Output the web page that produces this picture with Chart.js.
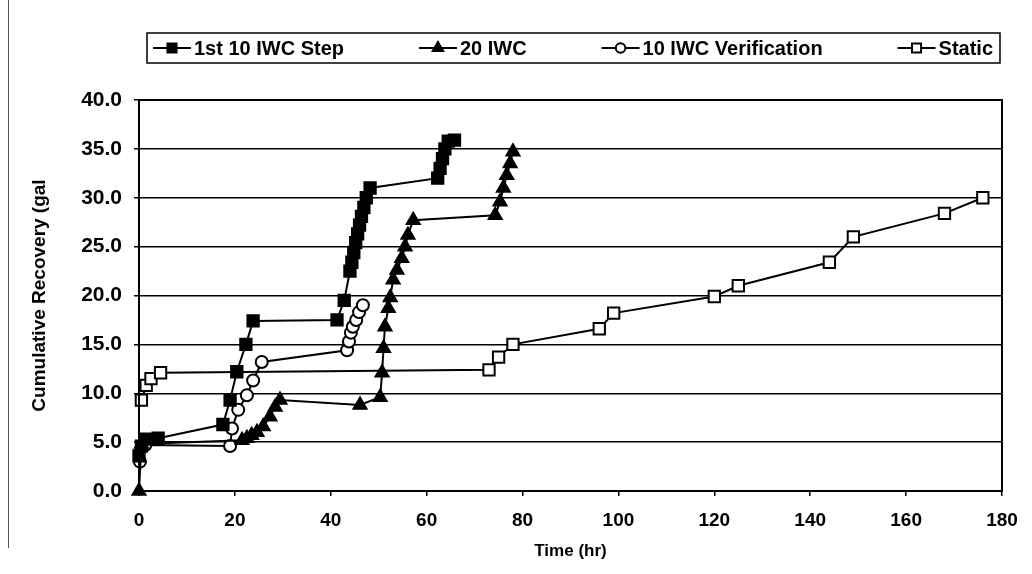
<!DOCTYPE html>
<html>
<head>
<meta charset="utf-8">
<script src="https://cdn.jsdelivr.net/npm/chart.js@4.4.1/dist/chart.umd.min.js"></script>
<style>
  body { margin: 0; background: #fff; }
  canvas { display: block; }
</style>
</head>
<body>
<canvas id="recoveryChart" width="1032" height="574"></canvas>
<script>
// waarden (tijd in uur, cumulatief in gal)
const stepTime = [0, 0.5, 1.5, 4, 17.5, 19, 20.4, 22.3, 23.8, 41.3, 42.8, 44.0, 44.4, 44.8, 45.2, 45.6, 46.0, 46.4, 46.9, 47.4, 48.2, 62.3, 62.8, 63.3, 63.8, 64.5, 65.8];
const stepRecovery = [3.6, 4.6, 5.3, 5.4, 6.8, 9.3, 12.2, 15.0, 17.4, 17.5, 19.5, 22.5, 23.4, 24.4, 25.4, 26.3, 27.2, 28.1, 29.0, 30.0, 31.0, 32.0, 33.0, 34.0, 35.0, 35.8, 35.9];

const iwc20Time = [0, 0.5, 21.5, 22.5, 23.5, 24.6, 25.9, 27.3, 28.4, 29.4, 46.1, 50.3, 50.7, 51.0, 51.3, 52.0, 52.4, 53.0, 53.8, 54.8, 55.5, 56.1, 57.2, 74.3, 75.3, 76.0, 76.7, 77.4, 78.0];
const iwc20Recovery = [0, 4.8, 5.2, 5.4, 5.7, 6.0, 6.6, 7.6, 8.6, 9.3, 8.8, 9.6, 12.1, 14.6, 16.8, 18.7, 19.8, 21.6, 22.6, 23.8, 25.0, 26.2, 27.7, 28.2, 29.6, 31.0, 32.3, 33.5, 34.7];

const verifTime = [0.2, 1.3, 19.0, 19.4, 20.7, 22.5, 23.8, 25.6, 43.4, 43.8, 44.2, 44.6, 45.3, 45.9, 46.7];
const verifRecovery = [3.0, 4.7, 4.6, 6.4, 8.3, 9.8, 11.3, 13.2, 14.4, 15.3, 16.2, 16.8, 17.5, 18.3, 19.0];

const staticTime = [0.5, 1.5, 2.5, 4.5, 73, 75, 78, 96, 99, 120, 125, 144, 149, 168, 176];
const staticRecovery = [9.3, 10.8, 11.5, 12.1, 12.4, 13.7, 15.0, 16.6, 18.2, 19.9, 21.0, 23.4, 26.0, 28.4, 30.0];

const seriesNames = ['1st 10 IWC Step', '20 IWC', '10 IWC Verification', 'Static'];

const toPoints = (xs, ys) => xs.map((x, i) => ({ x: x, y: ys[i] }));

function serie(label, xs, ys, style, fill, radius) {
  return {
    label: label,
    data: toPoints(xs, ys),
    showLine: true,
    borderColor: '#000',
    borderWidth: 2,
    pointStyle: style,
    pointRadius: radius,
    pointBackgroundColor: fill,
    pointBorderColor: '#000',
    pointBorderWidth: 2,
    clip: false
  };
}

// eigen legenda in een kader boven de grafiek
const boxLegend = {
  id: 'boxLegend',
  afterDraw(chart) {
    const ctx = chart.ctx;
    const left = 147, top = 33, right = 1000, bottom = 63;
    ctx.save();
    ctx.strokeStyle = '#000';
    ctx.lineWidth = 1.5;
    ctx.strokeRect(left, top, right - left, bottom - top);
    ctx.font = 'bold 20px "Liberation Sans", Arial, sans-serif';
    ctx.textBaseline = 'middle';
    ctx.fillStyle = '#000';
    const y = (top + bottom) / 2;
    const widths = chart.data.datasets.map(ds => 42 + ctx.measureText(ds.label).width);
    const total = widths.reduce((a, b) => a + b, 0);
    const gap = (right - left - 12 - total) / (widths.length - 1);
    let x = left + 6;
    chart.data.datasets.forEach((ds, i) => {
      ctx.lineWidth = 2;
      ctx.beginPath();
      ctx.moveTo(x, y);
      ctx.lineTo(x + 38, y);
      ctx.stroke();
      ctx.fillStyle = ds.pointBackgroundColor;
      ctx.strokeStyle = '#000';
      Chart.helpers.drawPoint(ctx, { pointStyle: ds.pointStyle, radius: ds.pointRadius * 0.8, rotation: 0, borderWidth: 2 }, x + 19, y);
      ctx.fillStyle = '#000';
      ctx.fillText(ds.label, x + 41, y + 1);
      x += widths[i] + gap;
    });
    // kader rond plotgebied
    const a = chart.chartArea;
    ctx.lineWidth = 2;
    ctx.strokeRect(a.left, a.top, a.right - a.left, a.bottom - a.top);
    // resten van de buitenrand
    ctx.strokeStyle = '#555';
    ctx.lineWidth = 1;
    ctx.beginPath();
    ctx.moveTo(8.5, 0);
    ctx.lineTo(8.5, 548);
    ctx.stroke();
    ctx.restore();
  }
};

const ctx = document.getElementById('recoveryChart').getContext('2d');
new Chart(ctx, {
  type: 'scatter',
  data: {
    datasets: [
      serie(seriesNames[0], stepTime, stepRecovery, 'rect', '#000', 8),
      serie(seriesNames[1], iwc20Time, iwc20Recovery, 'triangle', '#000', 7.5),
      serie(seriesNames[2], verifTime, verifRecovery, 'circle', '#fff', 6),
      serie(seriesNames[3], staticTime, staticRecovery, 'rect', '#fff', 8)
    ]
  },
  options: {
    responsive: false,
    animation: false,
    layout: { padding: { top: 100, right: 30, left: 0, bottom: 0 } },
    plugins: {
      legend: { display: false },
      tooltip: { enabled: false }
    },
    scales: {
      x: {
        type: 'linear',
        min: 0,
        max: 180,
        afterFit: s => { s.height = 83; },
        ticks: {
          stepSize: 20,
          color: '#000',
          padding: 13,
          font: { family: '"Liberation Sans", Arial', size: 19, weight: 'bold' }
        },
        grid: { drawOnChartArea: false, drawTicks: true, tickLength: 5, color: '#000', lineWidth: 1.5 },
        border: { color: '#000', width: 2 },
        title: {
          display: true,
          text: 'Time (hr)',
          color: '#000',
          padding: { top: 0, bottom: 12 },
          font: { family: '"Liberation Sans", Arial', size: 17, weight: 'bold' }
        }
      },
      y: {
        type: 'linear',
        min: 0,
        max: 40,
        afterFit: s => { s.width = 139; },
        ticks: {
          stepSize: 5,
          color: '#000',
          padding: 12,
          callback: v => v.toFixed(1),
          font: { family: '"Liberation Sans", Arial', size: 21, weight: 'bold' }
        },
        grid: { color: '#000', lineWidth: 1.5, tickLength: 5 },
        border: { color: '#000', width: 2 },
        title: {
          display: true,
          text: 'Cumulative Recovery (gal',
          color: '#000',
          padding: { top: 28, bottom: 0 },
          font: { family: '"Liberation Sans", Arial', size: 19, weight: 'bold' }
        }
      }
    }
  },
  plugins: [boxLegend]
});
</script>
</body>
</html>
